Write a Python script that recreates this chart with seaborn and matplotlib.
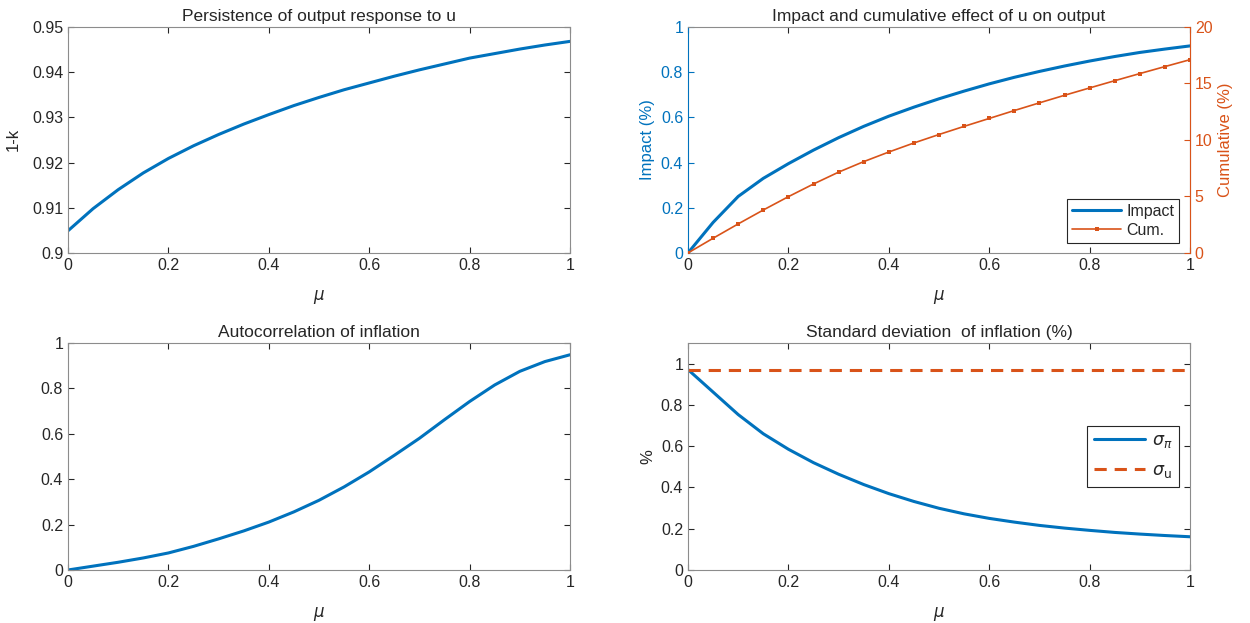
import numpy as np
import pandas as pd
import matplotlib
matplotlib.use("Agg")
import matplotlib.pyplot as plt
import seaborn as sns
from matplotlib.ticker import FuncFormatter, MultipleLocator

# values at mu = 0, 0.05, ..., 1
mu = [0.0, 0.05, 0.1, 0.15, 0.2, 0.25, 0.3, 0.35, 0.4, 0.45, 0.5,
      0.55, 0.6, 0.65, 0.7, 0.75, 0.8, 0.85, 0.9, 0.95, 1.0]
persistence = [0.9049, 0.9098, 0.9140, 0.9177, 0.9209, 0.9237, 0.9262, 0.9285,
               0.9306, 0.9326, 0.9344, 0.9361, 0.9376, 0.9391, 0.9405, 0.9418,
               0.9431, 0.9441, 0.9451, 0.9460, 0.9468]
impact = [0.0, 0.135, 0.25, 0.33, 0.395, 0.455, 0.51, 0.56, 0.605, 0.645, 0.682,
          0.716, 0.748, 0.777, 0.803, 0.827, 0.849, 0.869, 0.887, 0.902, 0.916]
cumulative = [0.0, 1.30, 2.57, 3.80, 4.98, 6.10, 7.15, 8.08, 8.93, 9.73, 10.48,
              11.2, 11.9, 12.6, 13.28, 13.95, 14.6, 15.24, 15.87, 16.49, 17.1]
autocorr = [0.0, 0.017, 0.034, 0.053, 0.075, 0.104, 0.137, 0.172, 0.211, 0.256,
            0.307, 0.366, 0.432, 0.505, 0.58, 0.662, 0.742, 0.815, 0.875, 0.918, 0.948]
sigma_pi = [0.971, 0.862, 0.753, 0.66, 0.585, 0.52, 0.464, 0.414, 0.37, 0.332,
            0.299, 0.272, 0.25, 0.232, 0.216, 0.203, 0.192, 0.182, 0.174, 0.167, 0.161]
sigma_u = [0.971] * len(mu)

BLUE = "#0072BD"
ORANGE = "#D95319"
GRAY = "#262626"

df = pd.DataFrame({"mu": mu, "persistence": persistence, "impact": impact,
                   "cumulative": cumulative, "autocorr": autocorr,
                   "sigma_pi": sigma_pi, "sigma_u": sigma_u})

sns.set_style("white")
plt.rcParams["font.family"] = ["Liberation Sans", "DejaVu Sans"]
plt.rcParams["mathtext.fontset"] = "dejavusans"
plt.rcParams["axes.edgecolor"] = GRAY
plt.rcParams["axes.linewidth"] = 0.8

fig = plt.figure(figsize=(12.5, 6.23), dpi=100)
w = 0.4016
ax1 = fig.add_axes([0.0544, 0.594, w, 0.3628])
ax2 = fig.add_axes([0.5504, 0.594, w, 0.3628])
ax3 = fig.add_axes([0.0544, 0.0851, w, 0.3644])
ax4 = fig.add_axes([0.5504, 0.0851, w, 0.3644])

fmt = FuncFormatter(lambda v, p: "%g" % round(v, 6))
TICK = 11.5
TITLE = 12.5
LAB = 12


def style(ax, right=True):
    ax.tick_params(direction="in", top=True, bottom=True, left=True, right=right,
                   length=4, labelsize=TICK, colors=GRAY, width=0.8)
    ax.set_xlim(0, 1)
    ax.xaxis.set_major_locator(MultipleLocator(0.2))
    ax.xaxis.set_major_formatter(fmt)
    ax.yaxis.set_major_formatter(fmt)
    ax.set_xlabel(r"$\mu$", fontsize=LAB, color=GRAY, labelpad=11)
    for s in ax.spines.values():
        s.set_color("#8c8c8c")
        s.set_visible(True)


# top left
sns.lineplot(data=df, x="mu", y="persistence", ax=ax1, color=BLUE, lw=2.2)
style(ax1)
ax1.set_ylim(0.9, 0.95)
ax1.yaxis.set_major_locator(MultipleLocator(0.01))
ax1.set_ylabel("1-k", fontsize=LAB, color=GRAY, labelpad=8)
ax1.set_title("Persistence of output response to u", fontsize=TITLE, pad=4)

# top right, two y axes
sns.lineplot(data=df, x="mu", y="impact", ax=ax2, color=BLUE, lw=2.2, label="Impact")
style(ax2, right=False)
ax2.set_ylim(0, 1)
ax2.yaxis.set_major_locator(MultipleLocator(0.2))
ax2.set_ylabel("Impact (%)", fontsize=LAB, color=BLUE)
ax2.tick_params(axis="y", colors=BLUE)
ax2.spines["left"].set_color(BLUE)
ax2.set_title("Impact and cumulative effect of u on output", fontsize=TITLE, pad=4)
ax2b = ax2.twinx()
sns.lineplot(data=df, x="mu", y="cumulative", ax=ax2b, color=ORANGE, lw=1.2,
             marker="s", markersize=3.2, markeredgewidth=0, label="Cum.")
ax2b.set_ylim(0, 20)
ax2b.yaxis.set_major_locator(MultipleLocator(5))
ax2b.tick_params(axis="y", direction="in", right=True, colors=ORANGE,
                 labelsize=TICK, length=4, width=0.8)
ax2b.set_ylabel("Cumulative (%)", fontsize=LAB, color=ORANGE)
ax2b.spines["right"].set_color(ORANGE)
ax2b.spines["left"].set_visible(False)
ax2b.spines["top"].set_visible(False)
ax2b.spines["bottom"].set_visible(False)
h1, l1 = ax2.get_legend_handles_labels()
h2, l2 = ax2b.get_legend_handles_labels()
ax2.get_legend().remove()
ax2b.get_legend().remove()
leg = ax2b.legend(h1 + h2, l1 + l2, loc="lower right", bbox_to_anchor=(0.978, 0.045),
                  fontsize=11.5, fancybox=False, framealpha=1, edgecolor=GRAY,
                  handlelength=3.1, handletextpad=0.3, borderpad=0.3,
                  labelspacing=0.25, borderaxespad=0)
leg.get_frame().set_linewidth(0.8)

# bottom left
sns.lineplot(data=df, x="mu", y="autocorr", ax=ax3, color=BLUE, lw=2.2)
style(ax3)
ax3.set_ylim(0, 1)
ax3.yaxis.set_major_locator(MultipleLocator(0.2))
ax3.set_ylabel("")
ax3.set_title("Autocorrelation of inflation", fontsize=TITLE, pad=4)

# bottom right
sns.lineplot(data=df, x="mu", y="sigma_pi", ax=ax4, color=BLUE, lw=2.2,
             label=r"$\sigma_{\pi}$")
sns.lineplot(data=df, x="mu", y="sigma_u", ax=ax4, color=ORANGE, lw=2.2,
             linestyle=(0, (4, 2.6)), label=r"$\sigma_{\mathrm{u}}$")
style(ax4)
ax4.set_ylim(0, 1.1)
ax4.yaxis.set_major_locator(MultipleLocator(0.2))
ax4.set_ylabel("%", fontsize=LAB, color=GRAY)
ax4.set_title("Standard deviation  of inflation (%)", fontsize=TITLE, pad=4)
leg4 = ax4.legend(loc="center right", bbox_to_anchor=(0.978, 0.5), fontsize=12.5,
                  fancybox=False, framealpha=1, edgecolor=GRAY,
                  handlelength=2.9, handletextpad=0.4, borderpad=0.4,
                  labelspacing=0.7, borderaxespad=0)
leg4.get_frame().set_linewidth(0.8)

fig.savefig("out.png", dpi=100)
